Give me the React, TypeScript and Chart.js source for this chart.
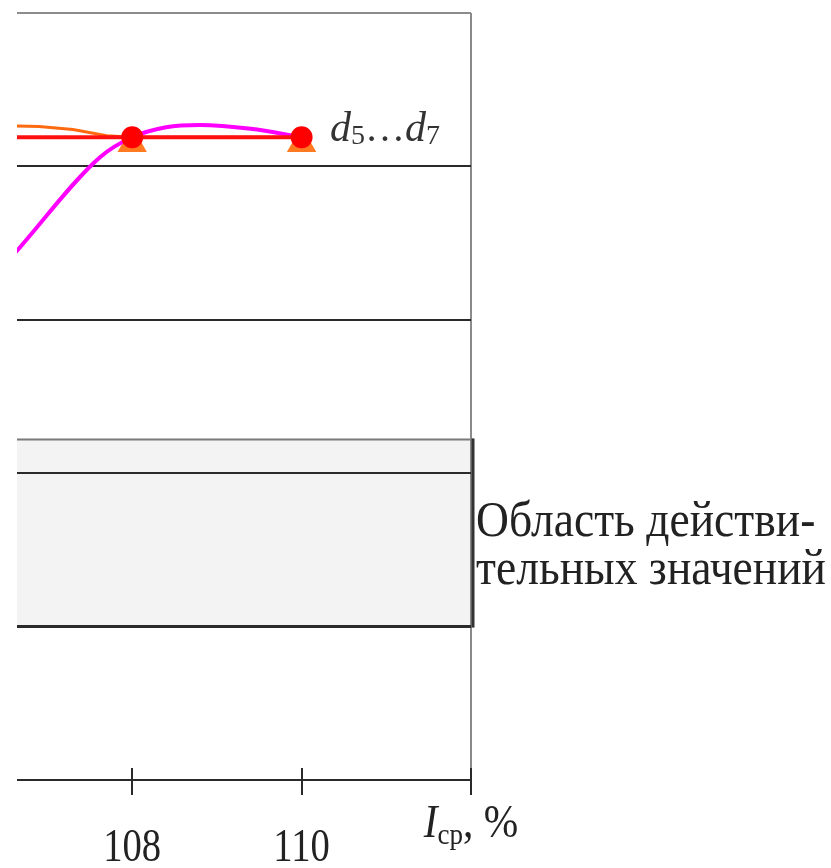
import React, { useEffect, useRef } from 'react';
import { Chart, registerables } from 'chart.js';

Chart.register(...registerables);

// ---- data ----
const xMin = 106.64;
const xMax = 112;
const yMin = 0;
const yMax = 5;
const xTicks = [108, 110, 112];
const xTickLabels = ['108', '110', ''];
const yTicks = [0, 1, 2, 3, 4, 5];

const redX = [106, 108, 110];
const redY = [4.19, 4.19, 4.19];
const redMarkerRadius = [0, 11, 11];

const orangeX = [106, 106.9, 107.3, 107.7, 108, 110];
const orangeY = [4.27, 4.26, 4.24, 4.2, 4.19, 4.19];
const orangeMarkX = [108, 110];
const orangeMarkY = [4.15, 4.15];

const magentaX = [106, 106.64, 107.62, 108, 108.4, 108.8, 109.4, 110];
const magentaY = [3.05, 3.45, 4.06, 4.19, 4.255, 4.27, 4.245, 4.19];

const regionBounds = [1, 2.22];
const regionLabel = ['Область действи-', 'тельных значений'];
const seriesLabel = ['d', '5', '…', 'd', '7'];
const axisTitle = ['I', 'ср', ', %'];

const SERIF = '"Liberation Serif", "Times New Roman", serif';

type Run = { text: string; font: string; dy?: number };

function drawRuns(
  ctx: CanvasRenderingContext2D,
  runs: Run[],
  x: number,
  y: number,
  align: 'left' | 'center',
  sx = 1,
  color = '#222'
) {
  ctx.save();
  let total = 0;
  runs.forEach((r) => {
    ctx.font = r.font;
    total += ctx.measureText(r.text).width;
  });
  const start = align === 'center' ? x - (total * sx) / 2 : x;
  ctx.translate(start, y);
  ctx.scale(sx, 1);
  ctx.textBaseline = 'alphabetic';
  ctx.textAlign = 'left';
  ctx.fillStyle = color;
  let cx = 0;
  runs.forEach((r) => {
    ctx.font = r.font;
    ctx.fillText(r.text, cx, r.dy || 0);
    cx += ctx.measureText(r.text).width;
  });
  ctx.restore();
}

const decorPlugin = {
  id: 'decor',
  beforeDraw(chart: any) {
    const ctx: CanvasRenderingContext2D = chart.ctx;
    const xs = chart.scales.x;
    const ys = chart.scales.y;
    const area = chart.chartArea;
    const left = area.left;
    const right = xs.getPixelForValue(xMax) + 2;
    const top = ys.getPixelForValue(regionBounds[1]);
    const bottom = ys.getPixelForValue(regionBounds[0]);
    ctx.save();
    ctx.fillStyle = '#f3f3f3';
    ctx.fillRect(left, top, right - left, bottom - top);
    ctx.strokeStyle = '#7a7a7a';
    ctx.lineWidth = 2;
    ctx.beginPath();
    ctx.moveTo(left, top);
    ctx.lineTo(right, top);
    ctx.stroke();
    ctx.restore();
  },
  afterDraw(chart: any) {
    const ctx: CanvasRenderingContext2D = chart.ctx;
    const xs = chart.scales.x;
    const ys = chart.scales.y;
    const y0 = ys.getPixelForValue(yMin);
    ctx.save();
    const right = xs.getPixelForValue(xMax) + 2;
    ctx.strokeStyle = '#333';
    ctx.lineWidth = 3;
    ctx.beginPath();
    ctx.moveTo(right, ys.getPixelForValue(regionBounds[1]) - 1);
    ctx.lineTo(right, ys.getPixelForValue(regionBounds[0]) + 1);
    ctx.stroke();
    ctx.strokeStyle = '#2a2a2a';
    ctx.lineWidth = 2;
    xTicks.forEach((v) => {
      const px = Math.round(xs.getPixelForValue(v));
      ctx.beginPath();
      ctx.moveTo(px, y0 - 12);
      ctx.lineTo(px, y0 + 15);
      ctx.stroke();
    });
    ctx.restore();
    xTicks.forEach((v, i) => {
      if (!xTickLabels[i]) return;
      drawRuns(ctx, [{ text: xTickLabels[i], font: `46px ${SERIF}` }], xs.getPixelForValue(v), y0 + 81, 'center', 0.84);
    });
    drawRuns(
      ctx,
      [
        { text: axisTitle[0], font: `italic 46px ${SERIF}` },
        { text: axisTitle[1], font: `30px ${SERIF}`, dy: 7 },
        { text: axisTitle[2], font: `46px ${SERIF}` },
      ],
      xs.getPixelForValue(xMax),
      y0 + 57,
      'center',
      0.9
    );
    drawRuns(
      ctx,
      [
        { text: seriesLabel[0], font: `italic 42px ${SERIF}` },
        { text: seriesLabel[1], font: `28px ${SERIF}`, dy: 3 },
        { text: seriesLabel[2], font: `40px ${SERIF}` },
        { text: seriesLabel[3], font: `italic 42px ${SERIF}` },
        { text: seriesLabel[4], font: `28px ${SERIF}`, dy: 3 },
      ],
      330,
      ys.getPixelForValue(redY[2]) + 4,
      'left',
      1,
      '#333'
    );
    ctx.save();
    ctx.font = `50px ${SERIF}`;
    const w2 = ctx.measureText(regionLabel[1]).width;
    ctx.restore();
    const sx = 350 / w2;
    const midY = (ys.getPixelForValue(regionBounds[0]) + ys.getPixelForValue(regionBounds[1])) / 2;
    drawRuns(ctx, [{ text: regionLabel[0], font: `50px ${SERIF}` }], 476, midY + 3, 'left', sx);
    drawRuns(ctx, [{ text: regionLabel[1], font: `50px ${SERIF}` }], 476, midY + 51, 'left', sx);
  },
};

export default function App() {
  const ref = useRef<HTMLCanvasElement | null>(null);
  useEffect(() => {
    if (!ref.current) return;
    const pts = (xs: number[], ys: number[]) => xs.map((x, i) => ({ x, y: ys[i] }));
    const chart = new Chart(ref.current, {
      type: 'line',
      data: {
        datasets: [
          {
            label: 'orange',
            data: pts(orangeX, orangeY),
            borderColor: '#ff6a10',
            borderWidth: 3,
            pointRadius: 0,
            tension: 0,
            order: 3,
          },
          {
            label: 'orange markers',
            data: pts(orangeMarkX, orangeMarkY),
            showLine: false,
            pointStyle: 'triangle',
            pointRadius: 17,
            pointBackgroundColor: '#ff7a20',
            pointBorderColor: '#ff7a20',
            pointBorderWidth: 0,
            order: 2,
          },
          {
            label: 'magenta',
            data: pts(magentaX, magentaY),
            borderColor: '#ff00ff',
            borderWidth: 4,
            pointRadius: 0,
            cubicInterpolationMode: 'monotone',
            order: 1,
          },
          {
            label: 'red',
            data: pts(redX, redY),
            borderColor: '#ff1010',
            borderWidth: 4,
            pointRadius: redMarkerRadius,
            pointBackgroundColor: '#ff0000',
            pointBorderColor: '#ff0000',
            pointBorderWidth: 0,
            tension: 0,
            order: 0,
          },
        ],
      } as any,
      options: {
        animation: false,
        responsive: false,
        events: [],
        layout: { autoPadding: false, padding: { left: 17, right: 360, top: 13, bottom: 88 } },
        plugins: { legend: { display: false }, tooltip: { enabled: false } },
        scales: {
          x: {
            type: 'linear',
            min: xMin,
            max: xMax,
            afterBuildTicks: (s: any) => {
              s.ticks = xTicks.map((v) => ({ value: v }));
            },
            afterFit: (s: any) => {
              s.height = 0;
            },
            ticks: { display: false },
            border: { display: false },
            grid: {
              drawTicks: false,
              lineWidth: 2,
              color: (c: any) => (c.tick && c.tick.value === xMax ? '#8a8a8a' : 'rgba(0,0,0,0)'),
            },
          },
          y: {
            type: 'linear',
            min: yMin,
            max: yMax,
            afterBuildTicks: (s: any) => {
              s.ticks = yTicks.map((v) => ({ value: v }));
            },
            afterFit: (s: any) => {
              s.width = 0;
            },
            ticks: { display: false },
            border: { display: false },
            grid: {
              drawTicks: false,
              lineWidth: (c: any) => (c.tick && c.tick.value === 1 ? 3 : 2),
              color: (c: any) => (c.tick && c.tick.value === yMax ? '#8c8c8c' : '#2a2a2a'),
            },
          },
        },
      } as any,
      plugins: [decorPlugin],
    });
    return () => chart.destroy();
  }, []);
  return (
    <div style={{ position: 'absolute', left: 0, top: 0, width: 831, height: 868, background: '#fff' }}>
      <canvas ref={ref} width={831} height={868} style={{ width: 831, height: 868, display: 'block' }} />
    </div>
  );
}
